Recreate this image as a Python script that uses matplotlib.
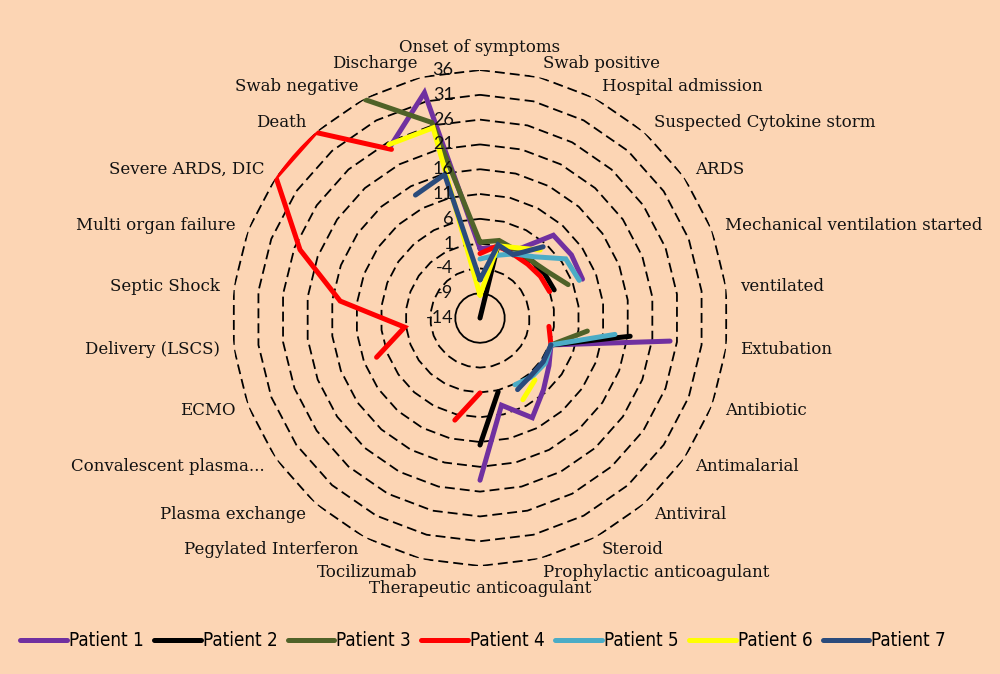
import numpy as np
import matplotlib
matplotlib.use("Agg")
import matplotlib.pyplot as plt

nan = np.nan

# categories, clockwise from the top
categories = ["Onset of symptoms", "Swab positive", "Hospital admission",
              "Suspected Cytokine storm", "ARDS", "Mechanical ventilation started",
              "ventilated", "Extubation", "Antibiotic", "Antimalarial", "Antiviral",
              "Steroid", "Prophylactic anticoagulant", "Therapeutic anticoagulant",
              "Tocilizumab", "Pegylated Interferon", "Plasma exchange",
              "Convalescent plasma...", "ECMO", "Delivery (LSCS)", "Septic Shock",
              "Multi organ failure", "Severe ARDS, DIC", "Death", "Swab negative",
              "Discharge"]

# day values (nan = no point)
patient1 = [0, 0.7, 1.4, 8.3, 8.4, 8.1, nan, 24.6, 1.3, 2.9, 5.3, 8.7, 4.1, 18.7,
            nan, nan, nan, nan, nan, nan, nan, nan, nan, nan, 25, 32.8]
patient2 = [-14, 1.2, 1.3, 1.6, 1.8, 2.0, nan, 16.5, 1.3, nan, nan, nan, 1.3, 11.6,
            nan, nan, nan, nan, nan, nan, nan, nan, nan, nan, nan, nan]
patient3 = [1.3, 2.1, 1.5, 1.5, 2.5, 5.0, nan, 7.8, 1.3, nan, nan, nan, nan, nan,
            nan, nan, nan, nan, nan, nan, nan, nan, nan, nan, 35.7, 26.6]
patient4 = [-1, 1, 0.5, 0.5, 0.8, 1, nan, 0, 1.3, nan, nan, nan, nan, 1.1,
            7.2, nan, nan, nan, 8.3, 1.3, 14.4, 24.8, 36, 36, 24.4, nan]
patient5 = [-2.1, -1, 0.6, 2.5, 7.0, 7.4, nan, 13.4, 1.3, 2.0, 1.8, 1.2, nan, nan,
            nan, nan, nan, nan, nan, nan, nan, nan, nan, nan, nan, nan]
patient6 = [-9.4, 1, 2, 4.3, nan, nan, nan, nan, nan, nan, 2.7, 4.6, nan, nan,
            nan, nan, nan, nan, nan, nan, nan, nan, nan, nan, 25.5, 25.5]
patient7 = [-6.3, 1.2, 0.4, 5.2, nan, nan, nan, nan, 1.3, 1.5, 1.5, 2.3, nan, nan,
            nan, nan, nan, nan, nan, nan, nan, nan, nan, nan, 14, 15.8]

series = [patient1, patient2, patient3, patient4, patient5, patient6, patient7]
names = ["Patient 1", "Patient 2", "Patient 3", "Patient 4", "Patient 5", "Patient 6", "Patient 7"]
colors = ["#7030A0", "#000000", "#4F6228", "#FF0000", "#4BACC6", "#FFFF00", "#2A4B7C"]
ticks = [-14, -9, -4, 1, 6, 11, 16, 21, 26, 31, 36]

bg = "#FCD5B4"
n = len(categories)
theta = np.arange(n) * 2 * np.pi / n
theta_c = np.append(theta, 2 * np.pi)

fig = plt.figure(figsize=(10, 6.74), dpi=100, facecolor=bg)
ax = fig.add_axes([0.232, 0.1602, 0.496, 0.7359], projection="polar")
ax.set_facecolor("none")
ax.set_theta_zero_location("N")
ax.set_theta_direction(-1)
ax.set_ylim(-14, 36)
ax.grid(False)
ax.set_xticks([])
ax.set_yticks([])
ax.spines["polar"].set_visible(False)

# polygon grid
for t in ticks[1:]:
    ring = np.full(n + 1, t)
    if t == -9:
        ax.plot(theta_c, ring, color="black", lw=1.3, zorder=1)
    else:
        ax.plot(theta_c, ring, color="black", lw=1.3, ls=(0, (5.5, 2.8)), zorder=1)

# tick labels along the vertical axis
for t in ticks:
    ax.annotate(str(t), xy=(0, t), xytext=(-19, 0), textcoords="offset points",
                ha="right", va="center", fontsize=13, family="Lato", color="#111111",
                annotation_clip=False, zorder=6)

# category labels
for i, lab in enumerate(categories):
    s = np.sin(theta[i])
    c = np.cos(theta[i])
    if abs(s) < 0.05:
        ha = "center"
        va = "bottom" if c > 0 else "top"
    else:
        ha = "left" if s > 0 else "right"
        va = "center"
    ax.text(theta[i], 38.8, lab, ha=ha, va=va, fontsize=12, family="DejaVu Serif",
            color="#111111", clip_on=False)

for vals, name, col in zip(series, names, colors):
    v = np.append(vals, vals[0])
    ax.plot(theta_c, v, color=col, lw=3.6, label=name, solid_capstyle="round",
            solid_joinstyle="miter", zorder=3)

leg = fig.legend(loc="center", bbox_to_anchor=(0.483, 0.049), ncol=7, frameon=False,
                 handlelength=2.5, handletextpad=0.1, columnspacing=0.55,
                 prop={"family": "DejaVu Sans", "stretch": "condensed", "size": 13.5})

fig.savefig("out.png", dpi=100, facecolor=bg)
